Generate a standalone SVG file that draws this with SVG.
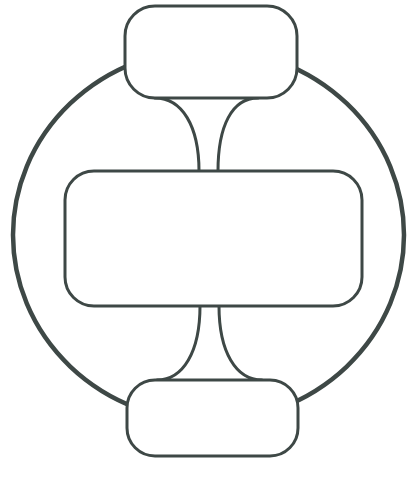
<svg xmlns="http://www.w3.org/2000/svg" width="409" height="477" viewBox="0 0 409 477">
  <style>
    .node { fill: #ffffff; stroke: #3e4846; stroke-width: 3; }
    .link { fill: none; stroke: #3e4846; stroke-width: 3; stroke-linecap: round; }
    .ring { fill: none; stroke: #3e4846; stroke-width: 4.5; }
  </style>
  <rect width="409" height="477" fill="#ffffff"/>
  <g id="connectors">
    <ellipse class="ring" cx="208.5" cy="235" rx="195.5" ry="186"/>
    <path class="link" d="M155,98 C182,98 199,126 199,171"/>
    <path class="link" d="M258,98 C232,98 218,126 218,171"/>
    <path class="link" d="M200,306 C200,352 183,380 157,380"/>
    <path class="link" d="M219,306 C219,352 236,380 262,380"/>
  </g>
  <g id="node-top">
    <rect class="node" x="125" y="6" width="172" height="92" rx="30" ry="30"/>
  </g>
  <g id="node-middle">
    <rect class="node" x="65" y="171" width="297" height="135" rx="29" ry="29"/>
  </g>
  <g id="node-bottom">
    <rect class="node" x="127" y="380" width="171" height="76" rx="28" ry="28"/>
  </g>
</svg>
